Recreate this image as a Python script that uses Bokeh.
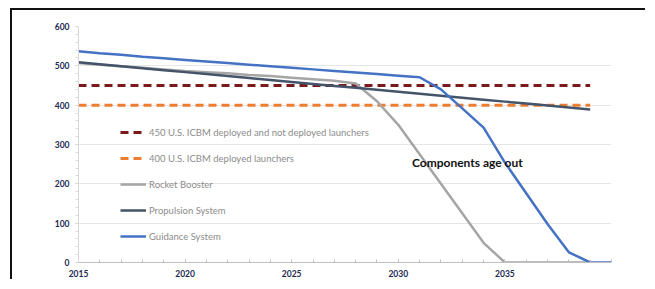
from bokeh.plotting import figure
from bokeh.models import Range1d, Label, Legend, LegendItem, FixedTicker
from bokeh.embed import file_html
from bokeh.resources import INLINE

# ---- data ----
years = [2015, 2016, 2017, 2018, 2019, 2020, 2021, 2022, 2023, 2024, 2025, 2026, 2027,
         2028, 2029, 2030, 2031, 2032, 2033, 2034, 2035, 2036, 2037, 2038, 2039, 2040]
years_to_2039 = years[:-1]

guidance = [537, 532, 528, 523, 519, 515, 511, 507, 503, 499, 495, 491, 487,
            483, 479, 475, 471, 440, 392, 343, 254, 176, 98, 26, 0, 0]
propulsion = [509, 504, 499, 494, 489, 484, 479, 474, 469, 464, 459, 454, 449,
              444, 439, 434, 429, 424, 419, 414, 409, 404, 399, 394, 389]
rocket = [507, 503, 499, 495, 491, 487, 484, 481, 477, 474, 470, 466, 462,
          455, 410, 350, 275, 200, 125, 50, 0, 0, 0, 0, 0]
launchers_450 = [450, 450, 450, 450, 450, 450, 450, 450, 450, 450, 450, 450, 450,
                 450, 450, 450, 450, 450, 450, 450, 450, 450, 450, 450, 450]
launchers_400 = [400, 400, 400, 400, 400, 400, 400, 400, 400, 400, 400, 400, 400,
                 400, 400, 400, 400, 400, 400, 400, 400, 400, 400, 400, 400]

x_major_ticks = [2015, 2020, 2025, 2030, 2035]
y_major_ticks = [0, 100, 200, 300, 400, 500, 600]
y_minor_ticks = list(range(0, 601, 20))

series_names = ["450 U.S. ICBM deployed and not deployed launchers",
                "400 U.S. ICBM deployed launchers",
                "Rocket Booster", "Propulsion System", "Guidance System"]
annotation_text = "Components age out"

# ---- figure ----
p = figure(width=635, height=271, output_backend="svg", toolbar_location=None,
           x_range=Range1d(2015, 2040), y_range=Range1d(0, 600),
           min_border_left=66, min_border_right=36, min_border_top=16,
           min_border_bottom=19, background_fill_color="white",
           border_fill_color="white", margin=(8, 0, 0, 10))
p.outline_line_color = None
# picture frame (top and left edges of the surrounding box)
p.styles = {"border-top": "2px solid #111111", "border-left": "2px solid #111111"}

r450 = p.line(years_to_2039, launchers_450, line_color="#7A1A1A", line_width=3,
              line_dash="8 5")
r400 = p.line(years_to_2039, launchers_400, line_color="#ED7D31", line_width=3,
              line_dash="8 5")
rrb = p.line(years_to_2039, rocket, line_color="#A5A5A5", line_width=2.5)
rps = p.line(years_to_2039, propulsion, line_color="#44546A", line_width=2.5)
rgs = p.line(years, guidance, line_color="#4472C4", line_width=2.5)

# axes
tick_font = "Lato"
p.xaxis.ticker = FixedTicker(ticks=x_major_ticks, minor_ticks=years)
p.yaxis.ticker = FixedTicker(ticks=y_major_ticks, minor_ticks=y_minor_ticks)
for ax in (p.xaxis[0], p.yaxis[0]):
    ax.major_label_text_font = tick_font
    ax.major_label_text_font_style = "bold"
    ax.major_label_text_font_size = "8.5px"
    ax.major_label_text_color = "#1C2950"

p.xaxis.axis_line_color = "#BFBFBF"
p.xaxis.major_tick_line_color = "#BFBFBF"
p.xaxis.minor_tick_line_color = "#BFBFBF"
p.xaxis.major_tick_in = 3
p.xaxis.major_tick_out = 0
p.xaxis.minor_tick_in = 3
p.xaxis.minor_tick_out = 0
p.xaxis.major_label_standoff = 7

p.yaxis.axis_line_color = "#D9D9D9"
p.yaxis.major_tick_line_color = "#D9D9D9"
p.yaxis.minor_tick_line_color = "#D9D9D9"
p.yaxis.major_tick_in = 0
p.yaxis.major_tick_out = 3
p.yaxis.minor_tick_in = 0
p.yaxis.minor_tick_out = 3
p.yaxis.major_label_standoff = 6

p.xgrid.grid_line_color = None
p.ygrid.grid_line_color = "#E6E6E6"
p.ygrid.grid_line_width = 1

# legend
legend = Legend(items=[LegendItem(label=series_names[0], renderers=[r450]),
                       LegendItem(label=series_names[1], renderers=[r400]),
                       LegendItem(label=series_names[2], renderers=[rrb]),
                       LegendItem(label=series_names[3], renderers=[rps]),
                       LegendItem(label=series_names[4], renderers=[rgs])],
                location=(42, 13))
legend.background_fill_alpha = 0
legend.border_line_alpha = 0
legend.padding = 0
legend.margin = 0
legend.spacing = 0
legend.glyph_width = 26
legend.glyph_height = 26
legend.label_height = 26
legend.label_standoff = 3
legend.label_text_font = "Lato"
legend.label_text_font_size = "9.5px"
legend.label_text_color = "#8C8C8C"
p.add_layout(legend, "center")

p.add_layout(Label(x=2030.64, y=254, text=annotation_text, text_font="Lato",
                   text_font_style="bold", text_font_size="12px",
                   text_baseline="middle", text_align="left",
                   text_color="#111111"))

open("out.html", "w").write(file_html(p, INLINE))
